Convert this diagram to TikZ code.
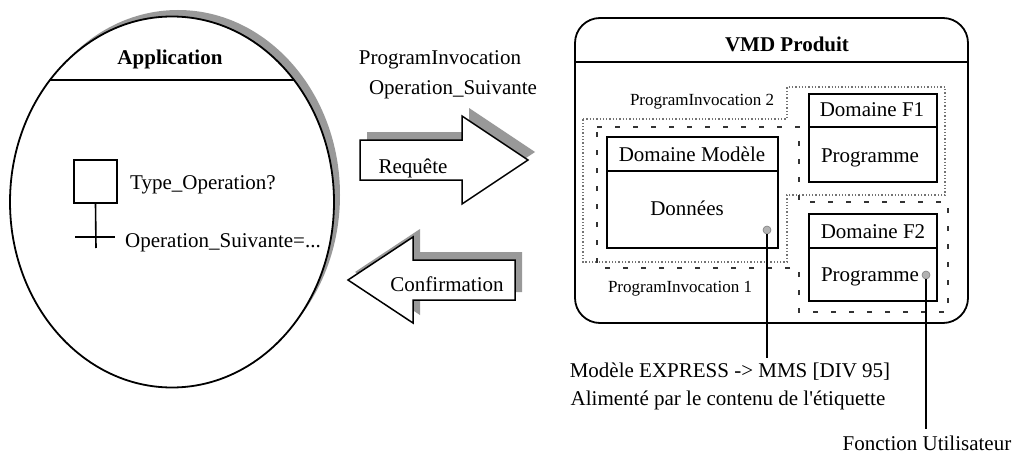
\documentclass[tikz,border=0pt]{standalone}
\usepackage{fontspec}
\setmainfont{Liberation Serif}
\usetikzlibrary{shapes.geometric}
\begin{document}
\begin{tikzpicture}[x=1pt,y=-1pt,
  lbl/.style={font=\fontsize{21}{25}\selectfont, inner sep=0pt, anchor=base},
  lblw/.style={font=\fontsize{21}{25}\selectfont, inner sep=0pt, anchor=base west},
  smalllbl/.style={font=\fontsize{17}{20}\selectfont, inner sep=0pt, anchor=base},
  ttl/.style={font=\fontsize{21}{25}\selectfont\bfseries, inner sep=0pt, anchor=base},
  shadowfill/.style={fill=black!40},
  outline/.style={draw=black, line width=1.8pt},
  blockarrow/.style={draw=black, fill=white, line width=1.5pt, line join=miter},
  dom/.style={draw, line width=2.2pt, inner sep=0pt},
  dotmark/.style={circle, fill=black!30, draw=black!50, line width=0.6pt, minimum size=8pt, inner sep=0pt},
  lead/.style={line width=1.8pt},
  pitwo/.style={draw=black!55, line width=1.3pt, dotted},
  pione/.style={draw=black!80, line width=1.3pt, dash pattern=on 5pt off 13pt},
]
\useasboundingbox (0,0) rectangle (1018,460);

% ---------- Application ----------
\fill[shadowfill] (178,195) ellipse [x radius=162pt, y radius=185pt];
\node[ellipse, outline, fill=white, minimum width=324pt, minimum height=371pt, inner sep=0pt] (app) at (172,202) {};
\draw[line width=1.8pt] (50,80) -- (294,80);
\node[ttl] (apptitle) at (170,65) {Application};

\node[draw, line width=1.6pt, minimum size=43pt, inner sep=0pt] (sq) at (95.5,181.5) {};
\coordinate (trend) at (96,248);
\coordinate (tickl) at (75,237);
\coordinate (tickr) at (115,237);
\draw[line width=1.6pt] (sq.south) -- (trend);
\draw[line width=1.6pt] (tickl) -- (tickr);
\node[lblw] (typeop) at (130,189) {Type\_Operation?};
\node[lblw] (opsuiv) at (125,247) {Operation\_Suivante=...};

% ---------- middle labels ----------
\node[lbl] (pinv) at (440,65) {ProgramInvocation};
\node[lbl] (opsuiv2) at (453,95) {Operation\_Suivante};

% Requete arrow
\fill[shadowfill, shift={(7,-8)}] (360,140) -- (462,140) -- (462,116) -- (528,160) -- (462,204) -- (462,180) -- (360,180) -- cycle;
\draw[blockarrow] (360,140) -- (462,140) -- (462,116) -- (528,160) -- (462,204) -- (462,180) -- (360,180) -- cycle;
\node[lbl] (req) at (413,173) {Requête};

% Confirmation arrow
\fill[shadowfill, shift={(7,-8)}] (515,260) -- (413,260) -- (413,237) -- (348,280) -- (413,323) -- (413,300) -- (515,300) -- cycle;
\draw[blockarrow] (515,260) -- (413,260) -- (413,237) -- (348,280) -- (413,323) -- (413,300) -- (515,300) -- cycle;
\node[lbl] (conf) at (447,291) {Confirmation};

% ---------- VMD Produit ----------
\node[outline, rounded corners=25pt, minimum width=393pt, minimum height=305pt, inner sep=0pt] (vmd) at (771.5,170.5) {};
\draw[line width=1.8pt] (575,62) -- (968,62);
\node[ttl] (vmdtitle) at (787,52) {VMD Produit};

% ProgramInvocation 2 (dotted)
\draw[pitwo] (583,119) -- (787,119) -- (787,87) -- (945,87) -- (945,195) -- (787,195) -- (787,262) -- (583,262) -- cycle;
\node[smalllbl] (pi2) at (702,106) {ProgramInvocation 2};

% ProgramInvocation 1 (dashed)
\draw[pione] (597,127) -- (799,127) -- (799,202) -- (948,202) -- (948,312) -- (799,312) -- (799,268) -- (597,268) -- cycle;
\node[smalllbl] (pi1) at (680,292) {ProgramInvocation 1};

% Domaine Modele
\node[dom, minimum width=171pt, minimum height=111pt] (dm) at (692.5,192.5) {};
\draw[line width=2.2pt] (607,171) -- (778,171);
\node[lbl] (dmtitle) at (692,161) {Domaine Modèle};
\node[lbl] (donnees) at (687,215) {Données};

% Domaine F1
\node[dom, minimum width=128pt, minimum height=88pt] (f1) at (873,138) {};
\draw[line width=2.2pt] (809,127) -- (937,127);
\node[lbl] (f1title) at (872,117) {Domaine F1};
\node[lbl] (f1prog) at (870,162) {Programme};

% Domaine F2
\node[dom, minimum width=128pt, minimum height=87pt] (f2) at (873,257.5) {};
\draw[line width=2.2pt] (809,248) -- (937,248);
\node[lbl] (f2title) at (873,238) {Domaine F2};
\node[lbl] (f2prog) at (870,281) {Programme};

% markers and leaders
\node[dotmark] (dot1) at (767,230) {};
\node[dotmark] (dot2) at (926,275) {};

\node[lbl] (expr) at (730,377) {Modèle EXPRESS -> MMS [DIV 95]};
\node[lbl] (alim) at (728,405) {Alimenté par le contenu de l\textquotesingle étiquette};
\node[lbl] (fonc) at (927,450) {Fonction Utilisateur};

\coordinate (end1) at (767,358);
\coordinate (end2) at (926,429);
\draw[lead] (dot1.south) -- (end1);
\draw[lead] (dot2.south) -- (end2);
\end{tikzpicture}
\end{document}
